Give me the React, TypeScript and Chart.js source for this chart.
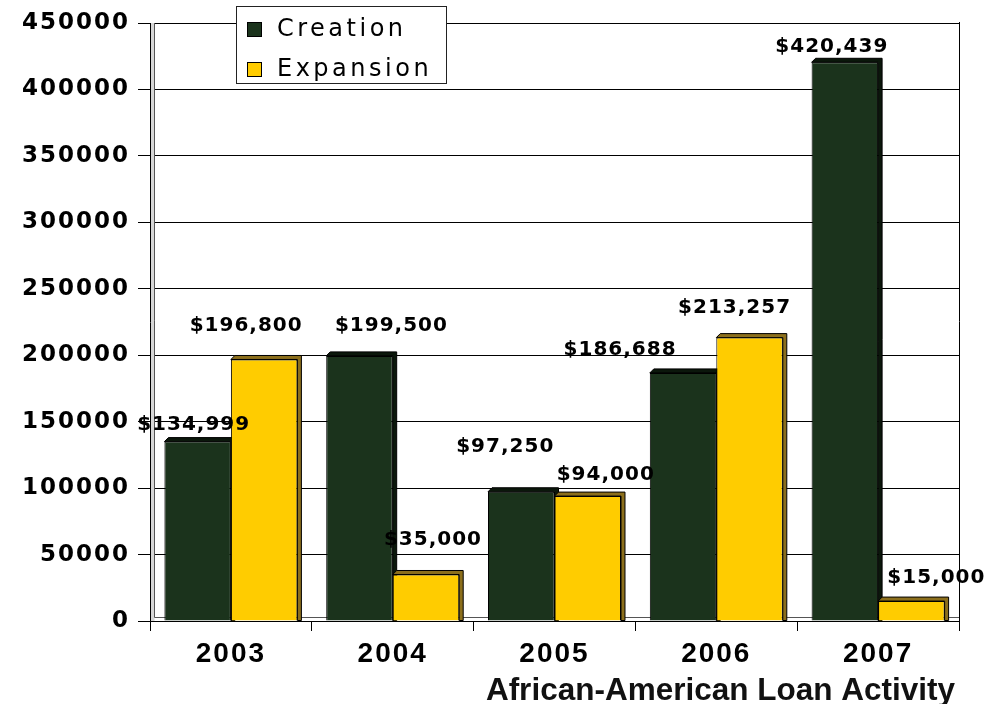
import React, { useEffect, useRef } from 'react';
import { Chart, registerables } from 'chart.js';

Chart.register(...registerables);

const years = ['2003', '2004', '2005', '2006', '2007'];
const creation = [134999, 199500, 97250, 186688, 420439];
const expansion = [196800, 35000, 94000, 213257, 15000];
const yTickValues = [0, 50000, 100000, 150000, 200000, 250000, 300000, 350000, 400000, 450000];
const seriesNames = ['Creation', 'Expansion'];
const chartTitle = 'African-American Loan Activity';

const fills = ['#1b331c', '#ffcc00'];
const sideFills = ['#0b170b', '#8c6f1c'];

// the value labels were nudged by hand in the original, so keep per-bar offsets (px)
const labelNudges = [
    [[-4, -17], [32, -30], [-16, -45], [-63, -23], [-13, -15]],
    [[-18, -34], [7, -35], [18, -21], [-15, -30], [25, -23]],
];

const DEPTH = 4;

const money = (v: number) => '$' + v.toLocaleString('en-US');

// wide tick text like the old picture
const spacingPlugin = {
    id: 'spacing',
    beforeDraw(chart: any) {
        chart.ctx.letterSpacing = '2px';
    },
};

const depthPlugin = {
    id: 'depth',
    beforeDatasetsDraw(chart: any) {
        const { ctx, chartArea } = chart;
        const { left, right, top, bottom } = chartArea;
        ctx.save();
        // back wall + floor
        ctx.fillStyle = '#d6d6d6';
        ctx.fillRect(left + 1, top, 3.5, bottom - top);
        ctx.strokeStyle = '#555';
        ctx.lineWidth = 1;
        ctx.beginPath();
        ctx.moveTo(left + 4.5, top);
        ctx.lineTo(left + 4.5, bottom - 3.5);
        ctx.lineTo(right, bottom - 3.5);
        ctx.stroke();
        // right frame
        ctx.strokeStyle = '#000';
        ctx.beginPath();
        ctx.moveTo(right + 0.5, top - 1);
        ctx.lineTo(right + 0.5, bottom);
        ctx.stroke();

        chart.data.datasets.forEach((_ds: any, di: number) => {
            const meta = chart.getDatasetMeta(di);
            meta.data.forEach((bar: any) => {
                const { x, y, base, width } = bar.getProps(['x', 'y', 'base', 'width'], true);
                const l = x - width / 2;
                const r = x + width / 2;
                ctx.fillStyle = sideFills[di];
                ctx.strokeStyle = '#000';
                ctx.beginPath();
                ctx.moveTo(l, y);
                ctx.lineTo(l + DEPTH, y - DEPTH);
                ctx.lineTo(r + DEPTH, y - DEPTH);
                ctx.lineTo(r + DEPTH, base);
                ctx.lineTo(r, base);
                ctx.lineTo(r, y);
                ctx.closePath();
                ctx.fill();
                ctx.stroke();
            });
        });
        ctx.restore();
    },
};

const valueLabelPlugin = {
    id: 'valueLabels',
    afterDatasetsDraw(chart: any) {
        const { ctx } = chart;
        ctx.save();
        ctx.letterSpacing = '1px';
        ctx.font = 'bold 20px "DejaVu Sans", sans-serif';
        ctx.fillStyle = '#000';
        ctx.textAlign = 'center';
        ctx.textBaseline = 'middle';
        chart.data.datasets.forEach((ds: any, di: number) => {
            const meta = chart.getDatasetMeta(di);
            meta.data.forEach((bar: any, i: number) => {
                const [dx, dy] = labelNudges[di][i];
                ctx.fillText(money(ds.data[i]), bar.x + dx, bar.y + dy);
            });
        });
        ctx.restore();
    },
};

const legendTitlePlugin = {
    id: 'legendTitle',
    afterDraw(chart: any) {
        const { ctx, chartArea } = chart;
        ctx.save();
        // legend box sitting on top of the plot
        const bx = chartArea.left + 86;
        const by = 6;
        ctx.fillStyle = '#fff';
        ctx.fillRect(bx, by, 210, 77);
        ctx.strokeStyle = '#222';
        ctx.lineWidth = 1;
        ctx.strokeRect(bx + 0.5, by + 0.5, 210, 77);
        ctx.letterSpacing = '3.5px';
        ctx.font = '24px "DejaVu Sans", sans-serif';
        ctx.textBaseline = 'middle';
        ctx.textAlign = 'left';
        chart.data.datasets.forEach((ds: any, di: number) => {
            const cy = by + 23 + di * 40;
            ctx.fillStyle = ds.backgroundColor;
            ctx.fillRect(bx + 11, cy - 7, 15, 15);
            ctx.strokeStyle = '#000';
            ctx.strokeRect(bx + 11.5, cy - 6.5, 14, 14);
            ctx.fillStyle = '#000';
            ctx.fillText(ds.label, bx + 41, cy + 1);
        });
        // title under the axis
        ctx.letterSpacing = '0px';
        ctx.font = 'bold 31.5px "Liberation Sans", Arial, sans-serif';
        ctx.textAlign = 'right';
        ctx.textBaseline = 'alphabetic';
        ctx.fillStyle = '#111';
        ctx.fillText(chartTitle, chartArea.right - 4, 700);
        ctx.restore();
    },
};

const App: React.FC = () => {
    const chartRef = useRef<HTMLCanvasElement>(null);
    const chartInstanceRef = useRef<Chart | null>(null);

    useEffect(() => {
        if (!chartRef.current) return;
        const ctx = chartRef.current.getContext('2d');
        if (!ctx) return;

        chartInstanceRef.current = new Chart(ctx, {
            type: 'bar',
            data: {
                labels: years,
                datasets: [
                    {
                        label: seriesNames[0],
                        data: creation,
                        backgroundColor: fills[0],
                        borderColor: '#000',
                        borderWidth: 1,
                        barPercentage: 1,
                        categoryPercentage: 0.822,
                    },
                    {
                        label: seriesNames[1],
                        data: expansion,
                        backgroundColor: fills[1],
                        borderColor: '#000',
                        borderWidth: 1,
                        barPercentage: 1,
                        categoryPercentage: 0.822,
                    },
                ],
            },
            options: {
                responsive: true,
                maintainAspectRatio: false,
                animation: false,
                layout: { padding: { top: 23, right: 28, bottom: 33, left: 0 } },
                plugins: {
                    legend: { display: false },
                    title: { display: false },
                    tooltip: { enabled: false },
                },
                scales: {
                    x: {
                        grid: {
                            display: true,
                            drawOnChartArea: false,
                            drawTicks: true,
                            tickLength: 10,
                            offset: true,
                            color: '#000',
                        },
                        border: { display: true, color: '#000' },
                        ticks: {
                            color: '#000',
                            padding: 6,
                            maxRotation: 0,
                            font: { family: '"Liberation Sans", Arial, sans-serif', size: 28, weight: 'bold' },
                        },
                        afterFit: (scale: any) => {
                            scale.height = 50;
                        },
                    },
                    y: {
                        min: 0,
                        max: 450000,
                        grid: { color: '#000', tickLength: 12 },
                        border: { display: true, color: '#000' },
                        ticks: {
                            color: '#000',
                            padding: 8,
                            font: { family: '"DejaVu Sans", sans-serif', size: 23, weight: 'bold' },
                            callback: (v: any) => String(v),
                        },
                        afterBuildTicks: (scale: any) => {
                            scale.ticks = yTickValues.map(v => ({ value: v }));
                        },
                        afterFit: (scale: any) => {
                            scale.width = 150;
                        },
                    },
                },
            },
            plugins: [spacingPlugin, depthPlugin, valueLabelPlugin, legendTitlePlugin],
        });

        return () => {
            if (chartInstanceRef.current) {
                chartInstanceRef.current.destroy();
                chartInstanceRef.current = null;
            }
        };
    }, []);

    return (
        <div style={{ position: 'absolute', left: 0, top: 0, width: 987, height: 704, background: '#fff' }}>
            <canvas ref={chartRef}></canvas>
        </div>
    );
};

export default App;
